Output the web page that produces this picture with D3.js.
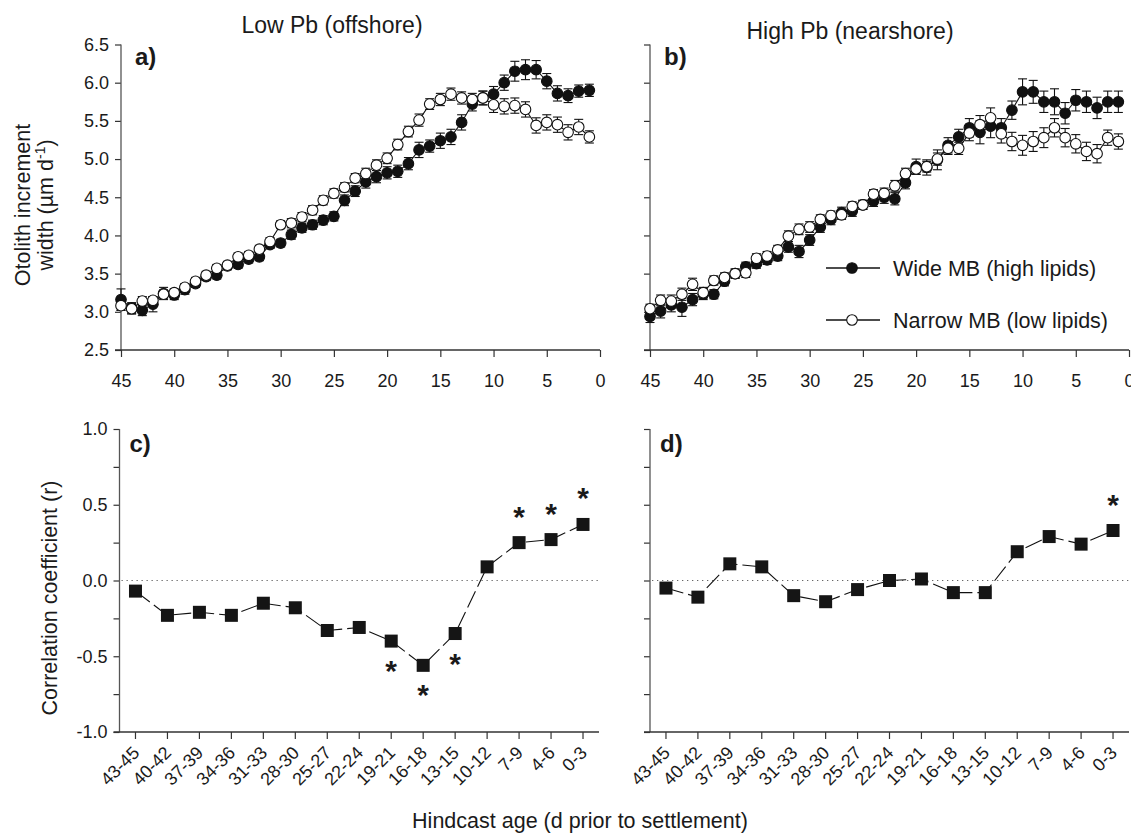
<!DOCTYPE html>
<html>
<head>
<meta charset="utf-8">
<script src="https://cdn.jsdelivr.net/npm/d3@7"></script>
<style>
    body { margin: 0; background: #fff; }
    text { font-family: "Liberation Sans", Arial, Helvetica, sans-serif; fill: #1a1a1a; }
</style>
</head>
<body>
<div id="chart"></div>
<script>

// hindcast age (d prior to settlement), top panels
var ages = [45, 44, 43, 42, 41, 40, 39, 38, 37, 36, 35, 34, 33, 32, 31, 30, 29, 28, 27, 26, 25, 24, 23,
    22, 21, 20, 19, 18, 17, 16, 15, 14, 13, 12, 11, 10, 9, 8, 7, 6, 5, 4, 3, 2, 1];
var ageTicks = [45, 40, 35, 30, 25, 20, 15, 10, 5, 0];
var widthTicks = [2.5, 3.0, 3.5, 4.0, 4.5, 5.0, 5.5, 6.0, 6.5];

// a) Low Pb (offshore)
var wideLow = [3.16, 3.05, 3.02, 3.10, 3.24, 3.22, 3.29, 3.37, 3.46, 3.48, 3.60, 3.62, 3.69, 3.72, 3.88,
    3.90, 4.01, 4.10, 4.14, 4.20, 4.25, 4.46, 4.58, 4.70, 4.77, 4.82, 4.84, 4.94, 5.12, 5.17, 5.24, 5.29,
    5.48, 5.72, 5.80, 5.85, 6.00, 6.15, 6.17, 6.17, 6.02, 5.86, 5.83, 5.89, 5.90];
var wideLowSe = [0.14, 0.07, 0.07, 0.10, 0.08, 0.06, 0.06, 0.05, 0.05, 0.05, 0.05, 0.05, 0.05, 0.05, 0.05,
    0.05, 0.06, 0.06, 0.06, 0.06, 0.06, 0.07, 0.07, 0.08, 0.08, 0.08, 0.08, 0.08, 0.10, 0.08, 0.10, 0.10,
    0.10, 0.09, 0.09, 0.10, 0.10, 0.13, 0.13, 0.12, 0.10, 0.10, 0.09, 0.08, 0.08];
var narrowLow = [3.08, 3.04, 3.14, 3.15, 3.23, 3.25, 3.32, 3.40, 3.48, 3.57, 3.61, 3.72, 3.74, 3.82, 3.92,
    4.14, 4.16, 4.24, 4.33, 4.46, 4.55, 4.63, 4.75, 4.81, 4.92, 5.01, 5.19, 5.36, 5.51, 5.72, 5.78, 5.85,
    5.80, 5.78, 5.80, 5.71, 5.69, 5.70, 5.65, 5.44, 5.48, 5.45, 5.35, 5.42, 5.29];
var narrowLowSe = [0.06, 0.07, 0.06, 0.05, 0.05, 0.05, 0.05, 0.05, 0.05, 0.05, 0.05, 0.05, 0.05, 0.05, 0.05,
    0.05, 0.06, 0.06, 0.06, 0.06, 0.06, 0.06, 0.06, 0.07, 0.07, 0.07, 0.07, 0.07, 0.08, 0.07, 0.08, 0.08,
    0.08, 0.08, 0.09, 0.10, 0.10, 0.10, 0.10, 0.10, 0.10, 0.10, 0.10, 0.10, 0.08];

// b) High Pb (nearshore)
var wideHigh = [2.94, 3.01, 3.09, 3.06, 3.16, 3.23, 3.23, 3.40, 3.50, 3.59, 3.63, 3.68, 3.73, 3.85, 3.79,
    3.94, 4.11, 4.21, 4.30, 4.32, 4.40, 4.45, 4.50, 4.48, 4.69, 4.90, 4.89, 4.99, 5.18, 5.29, 5.41, 5.35,
    5.43, 5.41, 5.64, 5.88, 5.88, 5.75, 5.75, 5.60, 5.77, 5.75, 5.67, 5.75, 5.75];
var wideHighSe = [0.08, 0.09, 0.09, 0.12, 0.08, 0.07, 0.06, 0.06, 0.06, 0.06, 0.06, 0.06, 0.06, 0.07, 0.08,
    0.07, 0.07, 0.07, 0.07, 0.07, 0.06, 0.07, 0.08, 0.08, 0.08, 0.10, 0.10, 0.13, 0.10, 0.10, 0.12, 0.15,
    0.15, 0.12, 0.12, 0.17, 0.15, 0.14, 0.17, 0.14, 0.14, 0.14, 0.14, 0.14, 0.14];
var narrowHigh = [3.04, 3.15, 3.14, 3.23, 3.36, 3.25, 3.41, 3.45, 3.50, 3.51, 3.70, 3.73, 3.81, 3.99, 4.08,
    4.11, 4.21, 4.26, 4.27, 4.38, 4.40, 4.54, 4.55, 4.65, 4.81, 4.87, 4.90, 5.00, 5.14, 5.14, 5.34, 5.45,
    5.54, 5.33, 5.23, 5.18, 5.23, 5.28, 5.41, 5.28, 5.20, 5.10, 5.07, 5.28, 5.23];
var narrowHighSe = [0.06, 0.07, 0.08, 0.08, 0.08, 0.07, 0.06, 0.06, 0.06, 0.06, 0.06, 0.06, 0.06, 0.07, 0.07,
    0.07, 0.06, 0.06, 0.06, 0.06, 0.06, 0.06, 0.07, 0.07, 0.07, 0.07, 0.07, 0.08, 0.08, 0.08, 0.10, 0.12,
    0.13, 0.12, 0.12, 0.13, 0.13, 0.13, 0.12, 0.12, 0.12, 0.12, 0.12, 0.10, 0.10];

// bottom panels: correlation between increment width and lipids
var ageBins = ["43-45", "40-42", "37-39", "34-36", "31-33", "28-30", "25-27", "22-24", "19-21",
    "16-18", "13-15", "10-12", "7-9", "4-6", "0-3"];
var corrTicks = [-1, -0.75, -0.5, -0.25, 0, 0.25, 0.5, 0.75, 1];
var corrLow = [-0.07, -0.23, -0.21, -0.23, -0.15, -0.18, -0.33, -0.31, -0.40, -0.56, -0.35, 0.09,
    0.25, 0.27, 0.37];
var corrHigh = [-0.05, -0.11, 0.11, 0.09, -0.10, -0.14, -0.06, 0.00, 0.01, -0.08, -0.08, 0.19,
    0.29, 0.24, 0.33];
var sigLow = ["19-21", "16-18", "13-15", "7-9", "4-6", "0-3"];
var sigHigh = ["0-3"];


var svg = d3.select("#chart").append("svg")
    .attr("width", 1131)
    .attr("height", 835);

var yTop = d3.scaleLinear().domain([2.5, 6.5]).range([350, 44.5]);
var yBot = d3.scaleLinear().domain([-1, 1]).range([732, 429]);

var axisGray = "#555";

function hline(g, x1, x2, y, color) {
    g.append("line").attr("x1", x1).attr("x2", x2).attr("y1", y).attr("y2", y)
        .attr("stroke", color).attr("stroke-width", 1.3);
}
function vline(g, x, y1, y2, color) {
    g.append("line").attr("x1", x).attr("x2", x).attr("y1", y1).attr("y2", y2)
        .attr("stroke", color).attr("stroke-width", 1.3);
}

function styleAxis(ax) {
    ax.select(".domain").remove();
    ax.selectAll(".tick line").attr("stroke", "#333").attr("stroke-width", 1.2);
    ax.selectAll(".tick text").style("font-size", "18px").attr("fill", "#1a1a1a");
}


//Top panels: increment width vs hindcast age
function drawTop(p) {
    var g = svg.append("g");
    var x = d3.scaleLinear().domain([45, 0]).range([p.x0, p.x1]);

    var yAx = g.append("g")
        .attr("transform", "translate(" + p.x0 + ",0)")
        .call(d3.axisLeft(yTop).tickValues(widthTicks).tickSize(6).tickPadding(6)
            .tickFormat(function (d) { return p.labels ? d.toFixed(1) : ""; }));
    styleAxis(yAx);
    vline(g, p.x0, yTop(6.5), yTop(2.5), axisGray);

    var xAx = g.append("g")
        .attr("transform", "translate(0," + yTop(2.5) + ")")
        .call(d3.axisBottom(x).tickValues(ageTicks).tickSize(7).tickPadding(17).tickFormat(d3.format("d")));
    styleAxis(xAx);
    hline(g, p.x0 - 6, p.x1, yTop(2.5), "#333");

    var series = [
        {v: p.wide, se: p.wideSe, fill: "#111"},
        {v: p.narrow, se: p.narrowSe, fill: "#fff"}
    ];

    var line = d3.line()
        .x(function (d, i) { return x(ages[i]); })
        .y(function (d) { return yTop(d); });

    series.forEach(function (s) {
        g.append("path")
            .attr("d", line(s.v))
            .attr("fill", "none")
            .attr("stroke", "#111")
            .attr("stroke-width", 1.1);
    });

    series.forEach(function (s) {
        var eb = g.append("g").selectAll("g")
            .data(s.v)
            .enter().append("g");
        eb.append("line")
            .attr("x1", function (d, i) { return x(ages[i]); })
            .attr("x2", function (d, i) { return x(ages[i]); })
            .attr("y1", function (d, i) { return yTop(d + s.se[i]); })
            .attr("y2", function (d, i) { return yTop(d - s.se[i]); })
            .attr("stroke", "#111").attr("stroke-width", 1.1);
        [1, -1].forEach(function (sign) {
            eb.append("line")
                .attr("x1", function (d, i) { return x(ages[i]) - 4.5; })
                .attr("x2", function (d, i) { return x(ages[i]) + 4.5; })
                .attr("y1", function (d, i) { return yTop(d + sign * s.se[i]); })
                .attr("y2", function (d, i) { return yTop(d + sign * s.se[i]); })
                .attr("stroke", "#111").attr("stroke-width", 1.1);
        });
    });

    series.forEach(function (s) {
        g.append("g").selectAll("circle")
            .data(s.v)
            .enter().append("circle")
            .attr("cx", function (d, i) { return x(ages[i]); })
            .attr("cy", function (d) { return yTop(d); })
            .attr("r", 5.3)
            .attr("fill", s.fill)
            .attr("stroke", "#111")
            .attr("stroke-width", 1.1);
    });

    g.append("text")
        .attr("x", p.x0 + 14)
        .attr("y", 65)
        .style("font-size", "24px")
        .style("font-weight", "bold")
        .text(p.letter);

    g.append("text")
        .attr("x", p.titleX)
        .attr("y", p.titleY)
        .attr("text-anchor", "middle")
        .style("font-size", "23px")
        .text(p.title);
}


//Bottom panels: correlation coefficient per age bin
function drawBottom(p) {
    var g = svg.append("g");
    var x = d3.scaleBand().domain(ageBins).range([p.x0, p.x1]);
    var cx = function (c) { return x(c) + x.bandwidth() / 2; };

    var yAx = g.append("g")
        .attr("transform", "translate(" + p.x0 + ",0)")
        .call(d3.axisLeft(yBot).tickValues(corrTicks).tickSize(6).tickPadding(6)
            .tickFormat(function (d) {
                return (p.labels && Math.abs(d * 2 - Math.round(d * 2)) < 1e-9) ? d.toFixed(1) : "";
            }));
    styleAxis(yAx);
    vline(g, p.x0, yBot(1), yBot(-1), axisGray);

    var xAx = g.append("g")
        .attr("transform", "translate(0," + yBot(-1) + ")")
        .call(d3.axisBottom(x).tickSize(7));
    styleAxis(xAx);
    xAx.selectAll(".tick text")
        .attr("x", 0).attr("y", 0).attr("dy", 0)
        .attr("text-anchor", "end")
        .attr("transform", "translate(5,22) rotate(-45)");
    hline(g, p.x0 - 6, p.x1, yBot(-1), "#333");

    // zero reference
    g.append("line")
        .attr("x1", p.x0 + 2).attr("x2", p.zeroEnd)
        .attr("y1", yBot(0)).attr("y2", yBot(0))
        .attr("stroke", "#666")
        .attr("stroke-width", 1)
        .attr("stroke-dasharray", "1.3,3.7");

    var line = d3.line()
        .x(function (d, i) { return cx(ageBins[i]); })
        .y(function (d) { return yBot(d); });

    g.append("path")
        .attr("d", line(p.corr))
        .attr("fill", "none")
        .attr("stroke", "#111")
        .attr("stroke-width", 1.1)
        .attr("stroke-dasharray", "18,5");

    g.append("g").selectAll("rect")
        .data(p.corr)
        .enter().append("rect")
        .attr("x", function (d, i) { return cx(ageBins[i]) - 6.5; })
        .attr("y", function (d) { return yBot(d) - 6.5; })
        .attr("width", 13)
        .attr("height", 13)
        .attr("fill", "#151515");

    g.append("g").selectAll("text")
        .data(p.sig)
        .enter().append("text")
        .attr("x", function (c) { return cx(c); })
        .attr("y", function (c) {
            var v = p.corr[ageBins.indexOf(c)];
            return v < 0 ? yBot(v) + 40 : yBot(v) - 16;
        })
        .attr("text-anchor", "middle")
        .style("font-size", "30px")
        .style("font-weight", "bold")
        .text("*");

    g.append("text")
        .attr("x", p.x0 + 10)
        .attr("y", 452)
        .style("font-size", "24px")
        .style("font-weight", "bold")
        .text(p.letter);
}


drawTop({letter: "a)", x0: 121, x1: 600, labels: true, title: "Low Pb (offshore)", titleX: 332, titleY: 33,
    wide: wideLow, wideSe: wideLowSe, narrow: narrowLow, narrowSe: narrowLowSe});
drawTop({letter: "b)", x0: 650, x1: 1129, labels: false, title: "High Pb (nearshore)", titleX: 850, titleY: 39,
    wide: wideHigh, wideSe: wideHighSe, narrow: narrowHigh, narrowSe: narrowHighSe});

drawBottom({letter: "c)", x0: 119.5, x1: 599, labels: true, corr: corrLow, sig: sigLow, zeroEnd: 599});
drawBottom({letter: "d)", x0: 650, x1: 1129, labels: false, corr: corrHigh, sig: sigHigh, zeroEnd: 1131});


//Legend (inside panel b)
var legend = svg.append("g");
[{label: "Wide MB (high lipids)", fill: "#111", y: 268},
    {label: "Narrow MB (low lipids)", fill: "#fff", y: 320}].forEach(function (d) {
    hline(legend, 826, 880, d.y, "#111");
    legend.append("circle")
        .attr("cx", 852).attr("cy", d.y).attr("r", 5.3)
        .attr("fill", d.fill).attr("stroke", "#111").attr("stroke-width", 1.1);
    legend.append("text")
        .attr("x", 893).attr("y", d.y + 8)
        .style("font-size", "21.5px")
        .text(d.label);
});


//Axis titles
svg.append("text")
    .attr("transform", "translate(30,205) rotate(-90)")
    .attr("text-anchor", "middle")
    .style("font-size", "21.5px")
    .text("Otolith increment");

var yTitle2 = svg.append("text")
    .attr("transform", "translate(53,205) rotate(-90)")
    .attr("text-anchor", "middle")
    .style("font-size", "21.5px");
yTitle2.append("tspan").text("width (\u00b5m d");
yTitle2.append("tspan").attr("dy", -8).style("font-size", "14px").text("-1");
yTitle2.append("tspan").attr("dy", 8).text(")");

svg.append("text")
    .attr("transform", "translate(57,598) rotate(-90)")
    .attr("text-anchor", "middle")
    .style("font-size", "21.5px")
    .text("Correlation coefficient (r)");

svg.append("text")
    .attr("x", 580)
    .attr("y", 828)
    .attr("text-anchor", "middle")
    .style("font-size", "21.5px")
    .text("Hindcast age (d prior to settlement)");

</script>
</body>
</html>
